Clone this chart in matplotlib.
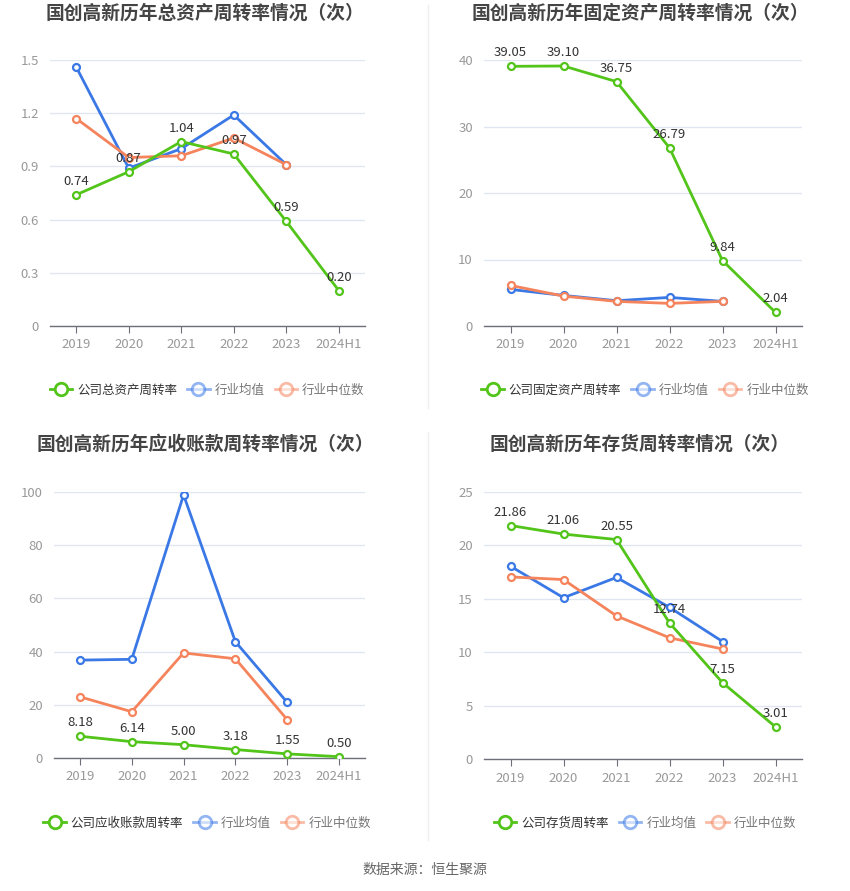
import matplotlib
matplotlib.use("Agg")
import matplotlib.pyplot as plt
from matplotlib.lines import Line2D

plt.rcParams['font.family'] = ['Noto Sans CJK SC', 'DejaVu Sans']

years = ["2019", "2020", "2021", "2022", "2023", "2024H1"]

# Total asset turnover
ta_company = [0.74, 0.87, 1.04, 0.97, 0.59, 0.20]
ta_avg = [1.46, 0.89, 1.00, 1.19, 0.91]
ta_median = [1.17, 0.95, 0.96, 1.06, 0.91]

# Fixed asset turnover
fa_company = [39.05, 39.10, 36.75, 26.79, 9.84, 2.04]
fa_avg = [5.5, 4.6, 3.8, 4.3, 3.7]
fa_median = [6.1, 4.5, 3.7, 3.4, 3.7]

# Receivables turnover
ar_company = [8.18, 6.14, 5.00, 3.18, 1.55, 0.50]
ar_avg = [36.8, 37.1, 98.9, 43.7, 20.9]
ar_median = [23.0, 17.4, 39.5, 37.3, 14.4]

# Inventory turnover
inv_company = [21.86, 21.06, 20.55, 12.74, 7.15, 3.01]
inv_avg = [18.05, 15.1, 17.0, 14.2, 11.0]
inv_median = [17.05, 16.8, 13.4, 11.35, 10.3]

titles = ["国创高新历年总资产周转率情况（次）", "国创高新历年固定资产周转率情况（次）",
          "国创高新历年应收账款周转率情况（次）", "国创高新历年存货周转率情况（次）"]
legend_names = ["公司总资产周转率", "公司固定资产周转率", "公司应收账款周转率", "公司存货周转率"]
yticks_list = [[0, 0.3, 0.6, 0.9, 1.2, 1.5], [0, 10, 20, 30, 40],
               [0, 20, 40, 60, 80, 100], [0, 5, 10, 15, 20, 25]]
ytick_labels = [["0", "0.3", "0.6", "0.9", "1.2", "1.5"], ["0", "10", "20", "30", "40"],
                ["0", "20", "40", "60", "80", "100"], ["0", "5", "10", "15", "20", "25"]]
data = [(ta_company, ta_avg, ta_median), (fa_company, fa_avg, fa_median),
        (ar_company, ar_avg, ar_median), (inv_company, inv_avg, inv_median)]

GREEN = "#52c41a"
BLUE = "#3a78e6"
ORANGE = "#f5845c"

W, H = 850, 891
fig = plt.figure(figsize=(W / 100, H / 100), dpi=100)

# axes boxes in pixels: (x0, x1, ytop, ybottom)
boxes = [(50, 365, 60, 326), (484, 802, 60, 326), (54, 365, 492, 758), (484, 802, 492, 759)]
title_pos = [(205, 13), (640, 13), (205, 444), (640, 444)]
legend_pos = [(207, 390), (645, 390), (207, 823), (645, 823)]

for i in range(4):
    x0, x1, yt, yb = boxes[i]
    ax = fig.add_axes([x0 / W, 1 - yb / H, (x1 - x0) / W, (yb - yt) / H])
    comp, avg, med = data[i]
    xs = list(range(len(years)))
    ax.plot(xs[:len(avg)], avg, color=BLUE, lw=2, marker='o', ms=5, mfc='white', mew=1.6, zorder=3)
    ax.plot(xs[:len(med)], med, color=ORANGE, lw=2, marker='o', ms=5, mfc='white', mew=1.6, zorder=3)
    ax.plot(xs, comp, color=GREEN, lw=2, marker='o', ms=5, mfc='white', mew=1.6, zorder=4)
    for x, v in zip(xs, comp):
        ax.annotate(f"{v:.2f}", (x, v), xytext=(0, 5), textcoords='offset points',
                    ha='center', va='bottom', fontsize=9.5, color='#333333', zorder=5)
    ax.set_xlim(-0.5, 5.5)
    ax.set_ylim(0, yticks_list[i][-1])
    ax.set_yticks(yticks_list[i])
    ax.set_yticklabels(ytick_labels[i])
    ax.set_xticks(xs)
    ax.set_xticklabels(years)
    ax.grid(axis='y', color='#e0e6f1', lw=1)
    ax.set_axisbelow(True)
    for s in ['top', 'right', 'left']:
        ax.spines[s].set_visible(False)
    ax.spines['bottom'].set_color('#6e7079')
    ax.spines['bottom'].set_linewidth(1)
    ax.tick_params(axis='y', length=0, labelsize=9.5, labelcolor='#999999', pad=8)
    ax.tick_params(axis='x', length=5, color='#6e7079', labelsize=9.5, labelcolor='#999999', pad=4)

    tx, ty = title_pos[i]
    fig.text(tx / W, 1 - ty / H, titles[i], ha='center', va='center', fontsize=13.5,
             fontweight='bold', color='#444444')

    handles = [
        Line2D([0], [0], color=GREEN, lw=2, marker='o', ms=9, mfc='white', mew=2),
        Line2D([0], [0], color=BLUE, lw=2, marker='o', ms=9, mfc='white', mew=2, alpha=0.55),
        Line2D([0], [0], color=ORANGE, lw=2, marker='o', ms=9, mfc='white', mew=2, alpha=0.55),
    ]
    lx, ly = legend_pos[i]
    leg = fig.legend(handles, [legend_names[i], "行业均值", "行业中位数"],
                     loc='center', bbox_to_anchor=(lx / W, 1 - ly / H), ncol=3,
                     frameon=False, fontsize=9, handlelength=1.8, handletextpad=0.4,
                     columnspacing=0.8)
    for j, t in enumerate(leg.get_texts()):
        t.set_color('#333333' if j == 0 else '#777777')

# separators
fig.add_artist(Line2D([428 / W, 428 / W], [1 - 5 / H, 1 - 408 / H], color='#eeeeee', lw=1))
fig.add_artist(Line2D([428 / W, 428 / W], [1 - 432 / H, 1 - 840 / H], color='#eeeeee', lw=1))

fig.text(425 / W, 1 - 870 / H, "数据来源：恒生聚源", ha='center', va='center', fontsize=10, color='#666666')

fig.savefig("out.png", dpi=100, facecolor='white')
